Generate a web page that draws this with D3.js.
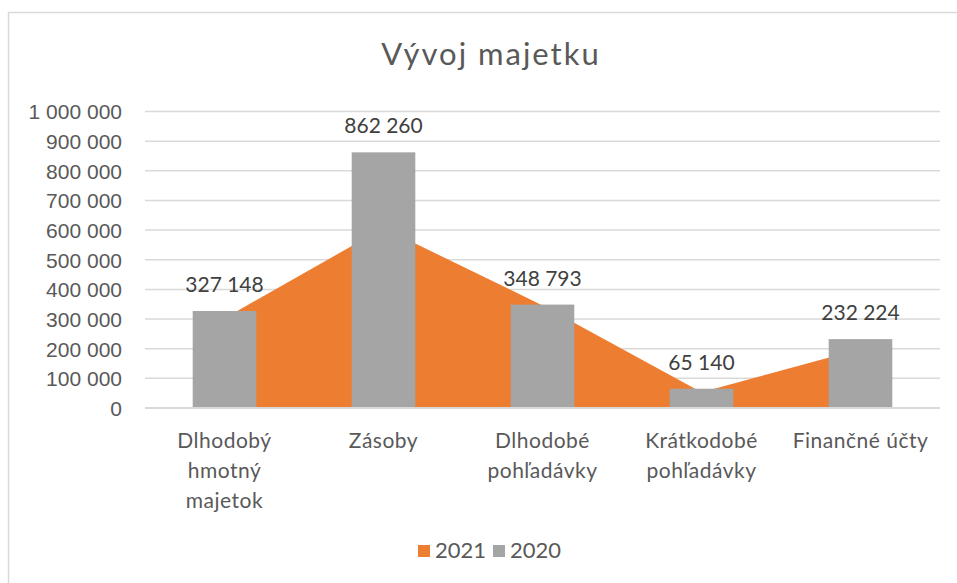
<!DOCTYPE html>
<html>
<head>
<meta charset="utf-8">
<script src="https://cdn.jsdelivr.net/npm/d3@7"></script>
<style>
  body { margin: 0; background: white; }
  svg { display: block; font-family: Lato, "Open Sans", sans-serif; }
  .grid line { stroke: #d9d9d9; stroke-width: 1.5px; }
  .axis text { fill: #595959; font-size: 21px; }
  .cat text { letter-spacing: 0.5px; }
  .label { fill: #404040; font-size: 21px; }
</style>
</head>
<body>
<svg id="chart" width="957" height="583"></svg>
<script>
var categories = ["Dlhodobý hmotný majetok", "Zásoby", "Dlhodobé pohľadávky", "Krátkodobé pohľadávky", "Finančné účty"];
var categoryLines = [["Dlhodobý", "hmotný", "majetok"], ["Zásoby"], ["Dlhodobé", "pohľadávky"], ["Krátkodobé", "pohľadávky"], ["Finančné účty"]];
var values2021 = [303000, 607000, 346000, 53000, 199000];
var values2020 = [327148, 862260, 348793, 65140, 232224];
var yTicks = [0, 100000, 200000, 300000, 400000, 500000, 600000, 700000, 800000, 900000, 1000000];
var seriesNames = ["2021", "2020"];

var orange = "#ed7d31", gray = "#a5a5a5";
var margin = {top: 111.5, right: 17, bottom: 175, left: 145};
var width = 957, height = 583;

var svg = d3.select("#chart");

// chart area frame
svg.append("rect")
  .attr("x", 8.5).attr("y", 12.5)
  .attr("width", 1000).attr("height", 1000)
  .attr("fill", "white")
  .attr("stroke", "#d9d9d9")
  .attr("stroke-width", 1.5);

svg.append("text")
  .attr("x", 491).attr("y", 65)
  .attr("text-anchor", "middle")
  .attr("fill", "#595959")
  .style("font-size", "31px")
  .style("letter-spacing", "2px")
  .text("Vývoj majetku");

var x = d3.scaleBand()
  .domain(categories)
  .range([margin.left, width - margin.right])
  .paddingInner(0).paddingOuter(0);

var y = d3.scaleLinear()
  .domain([0, 1000000])
  .range([408, margin.top]);

var fmt = function(d) { return d3.format(",")(d).replace(/,/g, " "); };

svg.append("g")
  .attr("class", "grid")
  .selectAll("line")
  .data(yTicks)
  .join("line")
  .attr("x1", margin.left).attr("x2", width - margin.right)
  .attr("y1", function(d) { return y(d); })
  .attr("y2", function(d) { return y(d); });

var yAxis = svg.append("g")
  .attr("class", "axis")
  .attr("transform", "translate(" + (margin.left - 23) + ",0)")
  .call(d3.axisLeft(y).tickValues(yTicks).tickSize(0).tickPadding(0).tickFormat(fmt));
yAxis.select(".domain").remove();
yAxis.selectAll("text").attr("dy", "0.35em");

var cx = function(i) { return x(categories[i]) + x.bandwidth() / 2; };

var area = d3.area()
  .x(function(d, i) { return cx(i); })
  .y0(y(0))
  .y1(function(d) { return y(d); });

svg.append("path")
  .datum(values2021)
  .attr("fill", orange)
  .attr("d", area);

var barW = x.bandwidth() / 2.5;

svg.append("g")
  .selectAll("rect")
  .data(values2020)
  .join("rect")
  .attr("x", function(d, i) { return cx(i) - barW / 2; })
  .attr("y", function(d) { return y(d); })
  .attr("width", barW)
  .attr("height", function(d) { return y(0) - y(d); })
  .attr("fill", gray);

svg.append("g")
  .selectAll("text")
  .data(values2020)
  .join("text")
  .attr("class", "label")
  .attr("x", function(d, i) { return cx(i); })
  .attr("y", function(d) { return y(d) - 19; })
  .attr("text-anchor", "middle")
  .text(fmt);

// x axis line
svg.append("line")
  .attr("x1", margin.left).attr("x2", width - margin.right)
  .attr("y1", y(0)).attr("y2", y(0))
  .attr("stroke", "#d9d9d9").attr("stroke-width", 2);

var xAxis = svg.append("g")
  .attr("class", "axis cat");
xAxis.selectAll("text")
  .data(categoryLines)
  .join("text")
  .attr("text-anchor", "middle")
  .attr("transform", function(d, i) { return "translate(" + cx(i) + ",448)"; })
  .selectAll("tspan")
  .data(function(d) { return d; })
  .join("tspan")
  .attr("x", 0)
  .attr("y", function(d, j) { return j * 30; })
  .text(function(d) { return d; });

// legend
var legend = svg.append("g").attr("class", "axis")
  .selectAll("g")
  .data(seriesNames)
  .join("g")
  .attr("transform", function(d, i) { return "translate(" + (418 + i * 75) + ",545)"; });
legend.append("rect")
  .attr("width", 12).attr("height", 12)
  .attr("fill", function(d, i) { return i === 0 ? orange : gray; });
legend.append("text")
  .attr("x", 17).attr("y", 13)
  .style("font-size", "22px")
  .text(function(d) { return d; });
</script>
</body>
</html>
